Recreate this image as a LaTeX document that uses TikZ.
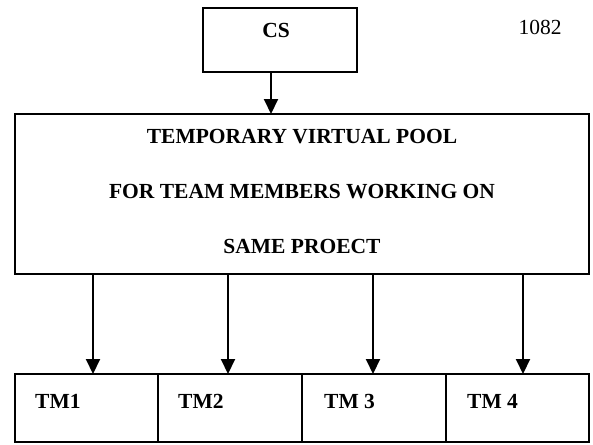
\documentclass[tikz,border=0pt]{standalone}
\usepackage{fontspec}
\setmainfont{Liberation Serif}
\usetikzlibrary{arrows.meta}
\begin{document}
\begin{tikzpicture}[x=1pt,y=-1pt,
  box/.style={draw,line width=1.6pt,rectangle,inner sep=0pt,outer sep=0pt},
  lbl/.style={font=\fontsize{21.5}{24}\selectfont\bfseries,inner sep=0pt},
  arr/.style={line width=2pt,-{Triangle[length=15pt,width=14pt]}}]
\useasboundingbox (0,0) rectangle (593,444);
\node[box,minimum width=154pt,minimum height=64pt] (cs) at (280,40) {};
\node[lbl] (cst) at (276,30) {CS};
\node[font=\fontsize{21.5}{24}\selectfont,inner sep=0pt] (num) at (540,27) {1082};
\node[box,minimum width=574pt,minimum height=160pt] (pool) at (302,194) {};
\node[lbl] (p1) at (302,136.5) {TEMPORARY VIRTUAL POOL};
\node[lbl] (p2) at (302,191.5) {FOR TEAM MEMBERS WORKING ON};
\node[lbl] (p3) at (302,246.5) {SAME PROECT};
\node[box,minimum width=143pt,minimum height=68pt] (tm1) at (86.5,408) {};
\node[box,minimum width=144pt,minimum height=68pt] (tm2) at (230,408) {};
\node[box,minimum width=144pt,minimum height=68pt] (tm3) at (374,408) {};
\node[box,minimum width=143pt,minimum height=68pt] (tm4) at (517.5,408) {};
\node[lbl,anchor=west] (t1) at (35,401) {TM1};
\node[lbl,anchor=west] (t2) at (178,401) {TM2};
\node[lbl,anchor=west] (t3) at (324,401) {TM 3};
\node[lbl,anchor=west] (t4) at (467,401) {TM 4};
\coordinate (a0) at (271,0);
\coordinate (a1) at (93,0);
\coordinate (a2) at (228,0);
\coordinate (a3) at (373,0);
\coordinate (a4) at (523,0);
\draw[arr] (cs.south -| a0) -- (pool.north -| a0);
\draw[arr] (pool.south -| a1) -- (tm1.north -| a1);
\draw[arr] (pool.south -| a2) -- (tm2.north -| a2);
\draw[arr] (pool.south -| a3) -- (tm3.north -| a3);
\draw[arr] (pool.south -| a4) -- (tm4.north -| a4);
\end{tikzpicture}
\end{document}
